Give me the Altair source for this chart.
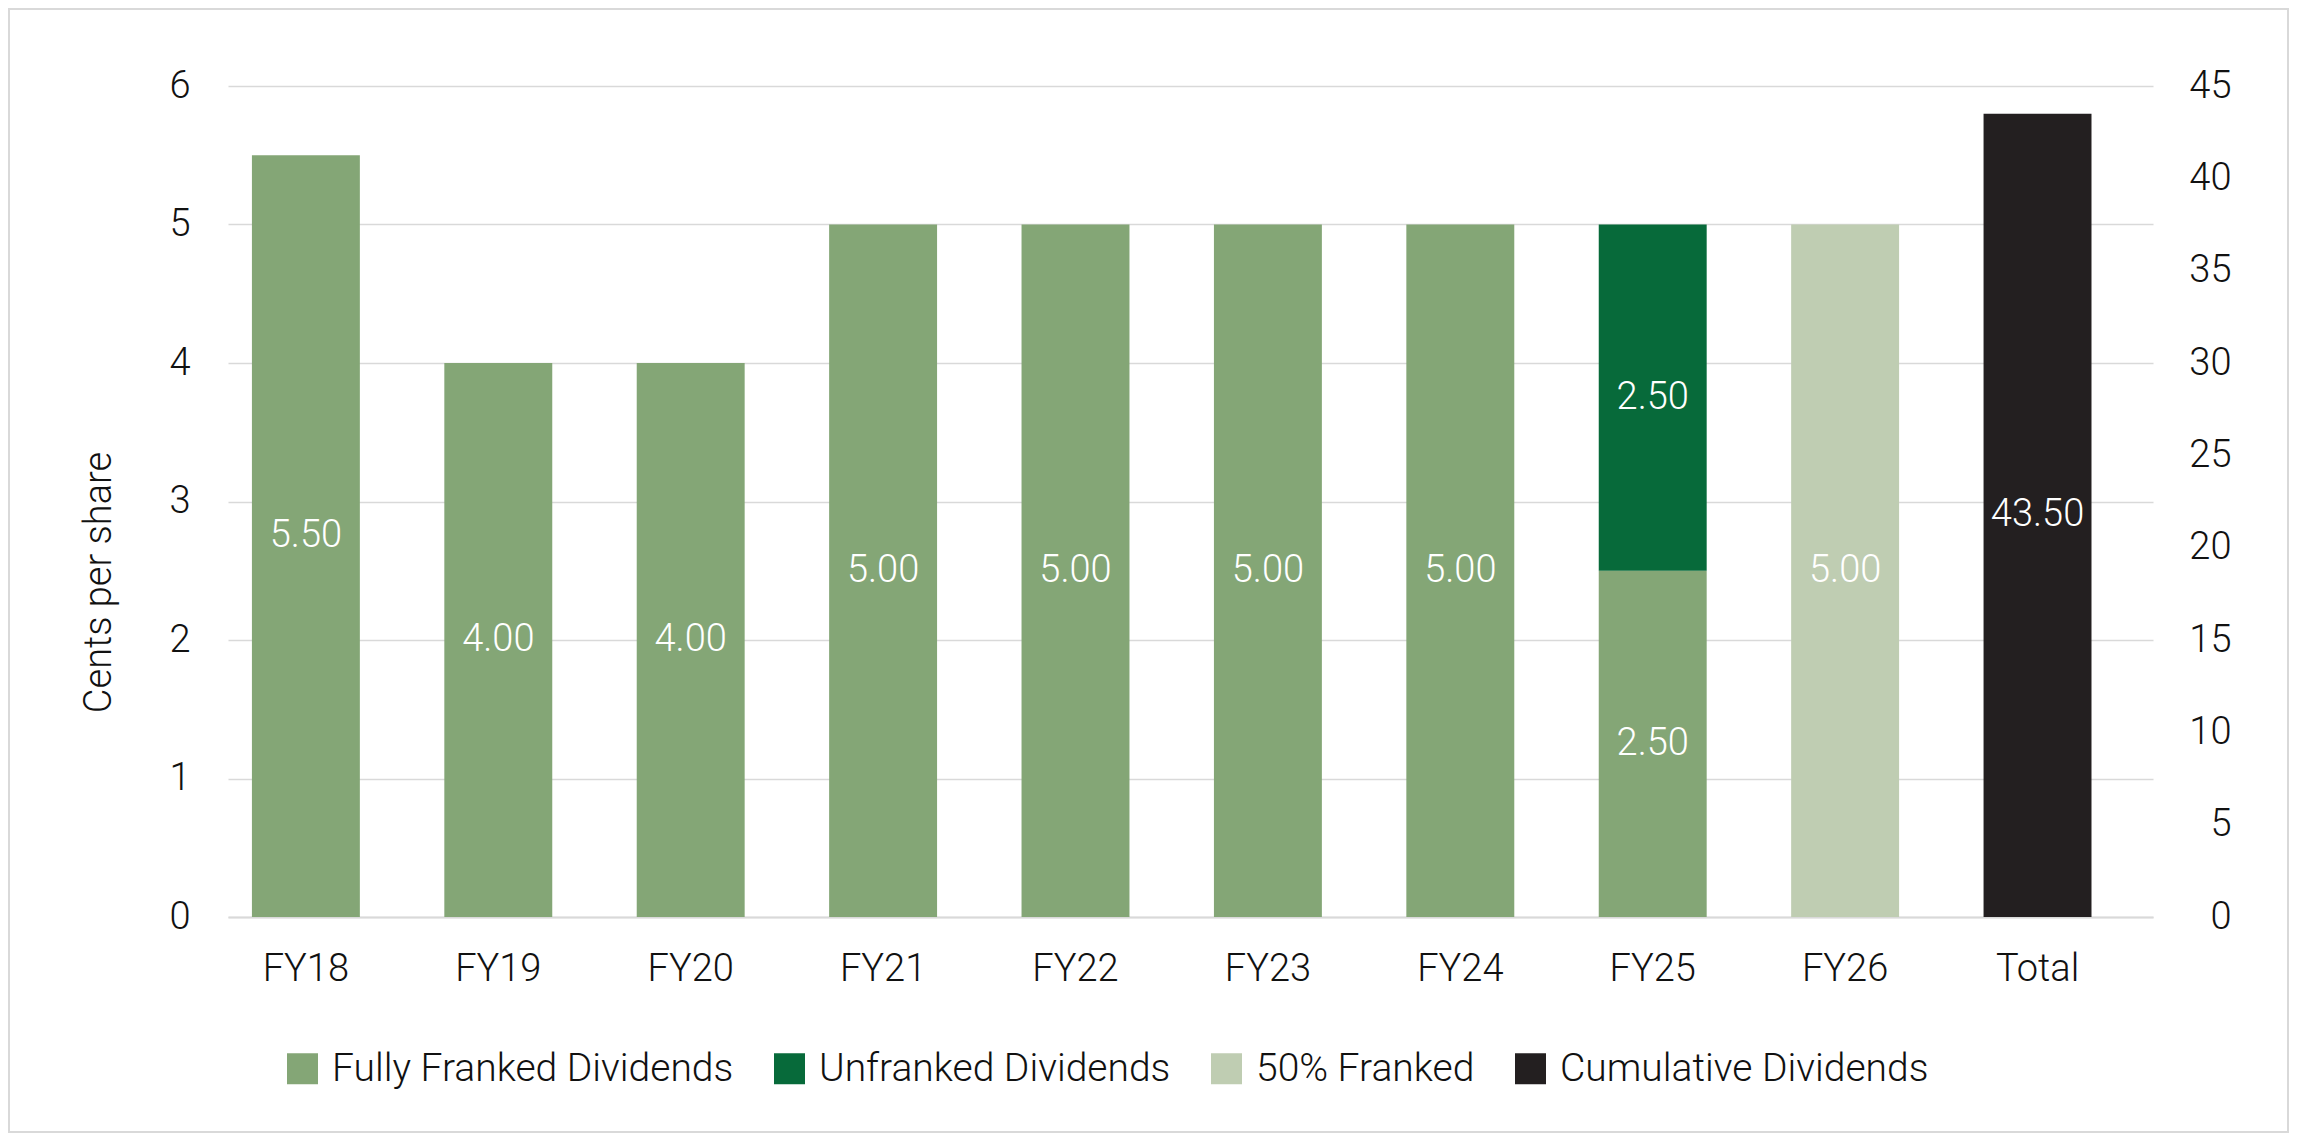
import altair as alt
import pandas as pd

# ---- data ----
categories = ["FY18", "FY19", "FY20", "FY21", "FY22", "FY23", "FY24", "FY25", "FY26", "Total"]
fy_categories = ["FY18", "FY19", "FY20", "FY21", "FY22", "FY23", "FY24", "FY25", "FY26"]
fully_franked = [5.50, 4.00, 4.00, 5.00, 5.00, 5.00, 5.00, 2.50, 0.00]
unfranked = [0.00, 0.00, 0.00, 0.00, 0.00, 0.00, 0.00, 2.50, 0.00]
fifty_franked = [0.00, 0.00, 0.00, 0.00, 0.00, 0.00, 0.00, 0.00, 5.00]
total_category = ["Total"]
cumulative_total = [43.50]
series_names = ["Fully Franked Dividends", "Unfranked Dividends", "50% Franked", "Cumulative Dividends"]
series_colors = ["#84A676", "#076A3A", "#BFCDB2", "#231F20"]
left_ticks = [0, 1, 2, 3, 4, 5, 6]
right_ticks = [0, 5, 10, 15, 20, 25, 30, 35, 40, 45]

FONT = "Roboto"
TXT = "#111111"
GRID = "#D9D9D9"

rows = []
for i, c in enumerate(fy_categories):
    base = 0.0
    for name, vals in zip(series_names[:3], [fully_franked, unfranked, fifty_franked]):
        v = vals[i]
        if v > 0:
            rows.append(dict(cat=c, series=name, value=v, start=base, end=base + v, mid=base + v / 2))
            base += v
left_df = pd.DataFrame(rows)
right_df = pd.DataFrame({
    "cat": total_category,
    "series": [series_names[3]],
    "value": cumulative_total,
    "start": [0.0],
    "end": cumulative_total,
    "mid": [v / 2 for v in cumulative_total],
})

x_enc = alt.X(
    "cat:N",
    sort=categories,
    scale=alt.Scale(domain=categories, paddingInner=0.439, paddingOuter=0.222, align=0.28),
    axis=alt.Axis(title=None, labelAngle=0, ticks=False, tickSize=0, labelPadding=33,
                  domain=True, domainColor=GRID, domainWidth=2, grid=False,
                  labelFont=FONT, labelFontWeight=300, labelFontSize=38, labelColor=TXT),
)
color_enc = alt.Color(
    "series:N",
    scale=alt.Scale(domain=series_names, range=series_colors),
    legend=alt.Legend(title=None, orient="none", legendX=55, legendY=963, direction="horizontal",
                      columns=4, symbolType="square", symbolSize=961, symbolStrokeWidth=0,
                      labelFont=FONT, labelFontWeight=300, labelFontSize=39, labelColor=TXT,
                      labelLimit=0, labelOffset=10, columnPadding=36, padding=0),
)

left_axis = alt.Axis(values=left_ticks, orient="left", title="Cents per share", grid=True,
                     gridColor=GRID, gridWidth=1.5, domain=False, ticks=False, tickSize=0,
                     labelPadding=38, labelFont=FONT, labelFontWeight=300, labelFontSize=38,
                     labelColor=TXT, titleFont=FONT, titleFontWeight=300, titleFontSize=38,
                     titleColor=TXT, titleAngle=270, titleAlign="center", titleBaseline="alphabetic",
                     titleX=-118, titleY=496)
left_scale = alt.Scale(domain=[0, 6], nice=False, zero=True)

left_bars = alt.Chart(left_df).mark_bar().encode(
    x=x_enc,
    y=alt.Y("start:Q", scale=left_scale, axis=left_axis),
    y2="end:Q",
    color=color_enc,
)
left_text = alt.Chart(left_df).mark_text(
    color="white", font=FONT, fontWeight=300, fontSize=38, align="center", baseline="middle"
).encode(
    x=x_enc,
    y=alt.Y("mid:Q", scale=left_scale, axis=left_axis),
    text=alt.Text("value:Q", format=".2f"),
)
left_layer = alt.layer(left_bars, left_text)

right_axis = alt.Axis(values=right_ticks, orient="right", title=None, grid=False, domain=False,
                      ticks=False, tickSize=0, labelAlign="right", labelPadding=78,
                      labelFont=FONT, labelFontWeight=300, labelFontSize=38, labelColor=TXT)
right_scale = alt.Scale(domain=[0, 45], nice=False, zero=True)

right_bars = alt.Chart(right_df).mark_bar().encode(
    x=x_enc,
    y=alt.Y("start:Q", scale=right_scale, axis=right_axis),
    y2="end:Q",
    color=color_enc,
)
right_text = alt.Chart(right_df).mark_text(
    color="white", font=FONT, fontWeight=300, fontSize=38, align="center", baseline="middle"
).encode(
    x=x_enc,
    y=alt.Y("mid:Q", scale=right_scale, axis=right_axis),
    text=alt.Text("value:Q", format=".2f"),
)
right_layer = alt.layer(right_bars, right_text)

frame = alt.Chart(pd.DataFrame({"a": [0]})).mark_rect(
    fillOpacity=0, stroke=GRID, strokeWidth=2
).encode(
    x=alt.value(-219), x2=alt.value(2060), y=alt.value(-77), y2=alt.value(1046)
)

chart = alt.layer(frame, left_layer, right_layer).resolve_scale(
    y="independent"
).properties(
    width=1925,
    height=831,
    autosize=alt.AutoSizeParams(type="none"),
    padding={"left": 220, "top": 78, "right": 140, "bottom": 221},
    background="white",
).configure_view(stroke=None)

chart.save("out.html", embed_options={"renderer": "svg", "actions": False})
